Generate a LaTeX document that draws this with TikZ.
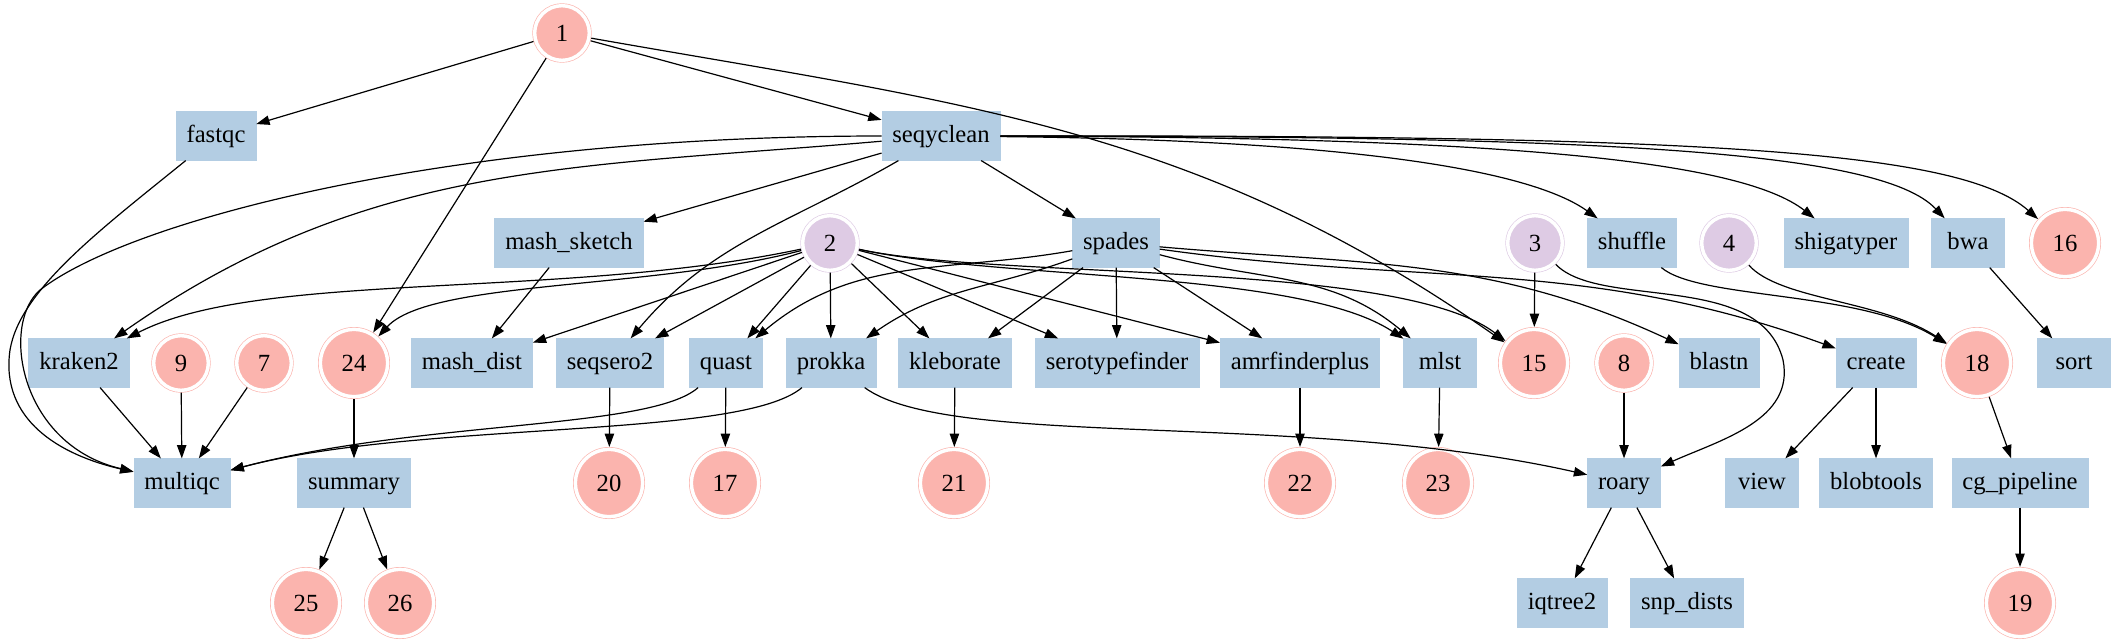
\documentclass[tikz,border=0pt]{standalone}
\usepackage{fontspec}
\setmainfont{Liberation Serif}
\usetikzlibrary{arrows.meta}

\definecolor{procblue}{HTML}{B3CDE3}
\definecolor{outpink}{HTML}{FBB4AE}
\definecolor{inlilac}{HTML}{DECBE4}
\newcommand{\gvfont}{\fontsize{18.5}{20}\selectfont}

\begin{document}
\begin{tikzpicture}[x=0.75pt,y=-0.75pt,
  proc/.style={rectangle,fill=procblue,draw=procblue,minimum width=54.5pt,
    minimum height=36.5pt,inner xsep=7.9pt,text height=12.5pt,text depth=3.5pt,font=\gvfont},
  chan/.style={circle,fill=#1,draw=#1,double=white,double distance=2.6pt,
    line width=0.5pt,minimum size=41pt,inner sep=0pt,outer sep=1.8pt,font=\gvfont},
  large/.style={minimum size=50.4pt},
  arr/.style={-{Triangle[length=10pt,width=7pt]},line width=0.9pt}]

\useasboundingbox (0,0) rectangle (2115,643);

% Processus
\foreach \n/\x/\y/\t in {
fastqc/216/136/fastqc,seqyclean/941/136/seqyclean,
mashsketch/569/243/mash\_sketch,spades/1116/243/spades,shuffle/1632/243/shuffle,
shigatyper/1846/243/shigatyper,bwa/1968/243/bwa,
kraken2/79/363/kraken2,mashdist/472/363/mash\_dist,seqsero2/610/363/seqsero2,
quast/726/363/quast,prokka/831/363/prokka,kleborate/955/363/kleborate,
serotypefinder/1117/363/serotypefinder,amrfinderplus/1300/363/amrfinderplus,
mlst/1440/363/mlst,blastn/1719/363/blastn,create/1876/363/create,sort/2074/363/sort,
multiqc/182/483/multiqc,summary/354/483/summary,roary/1624/483/roary,
view/1762/483/view,blobtools/1876/483/blobtools,cgpipeline/2020/483/cg\_pipeline,
iqtree2/1562/603/iqtree2,snpdists/1687/603/snp\_dists%
}
{
\node[proc] (\n) at (\x,\y) {\t};
}

% Canaux d'entree
\foreach \n/\x/\y in {
2/830/243,3/1535/243,4/1729/243%
}
{
\node[chan=inlilac] (n\n) at (\x,\y) {\n};
}

% Canaux de sortie
\foreach \n/\x/\y in {
1/562/33,9/181/363,7/264/363,8/1624/363%
}
{
\node[chan=outpink] (n\n) at (\x,\y) {\n};
}

\foreach \n/\x/\y in {
16/2065/243,24/354/363,15/1534/363,18/1977/363,
20/609/483,17/725/483,21/954/483,22/1300/483,23/1438/483,
25/306/603,26/400/603,19/2020/603%
}
{
\node[chan=outpink,large] (n\n) at (\x,\y) {\n};
}

% Liens droits
\foreach \a/\b in {
n1/fastqc,n1/seqyclean,n1/n24,seqyclean/mashsketch,seqyclean/spades,
mashsketch/mashdist,n2/mashdist,n2/seqsero2,n2/quast,n2/prokka,
n2/kleborate,n2/serotypefinder,n2/amrfinderplus,
spades/kleborate,spades/serotypefinder,spades/amrfinderplus,
n3/n15,bwa/sort,kraken2/multiqc,n9/multiqc,n7/multiqc,n24/summary,
seqsero2/n20,quast/n17,kleborate/n21,amrfinderplus/n22,mlst/n23,
n8/roary,create/view,create/blobtools,n18/cgpipeline,cgpipeline/n19,
summary/n25,summary/n26,roary/iqtree2,roary/snpdists%
}
{
\draw[arr] (\a) -- (\b);
}

% Liens courbes
\foreach \a/\b/\o/\i in {
n1/n15/-10/145,spades/quast/190/40,spades/prokka/200/35,
spades/mlst/-15/140,spades/blastn/-5/155,spades/create/-8/160,
seqyclean/kraken2/185/35,seqyclean/seqsero2/-150/50%
}
{
\draw[arr] (\a) to[out=\o,in=\i] (\b);
}

\draw[arr] (seqyclean) .. controls (450,136) and (130,220) .. (40,290)
  .. controls (0,325) and (20,445) .. (multiqc);
\draw[arr] (fastqc) .. controls (100,230) and (20,290) .. (10,350)
  .. controls (0,420) and (60,455) .. (multiqc);
\draw[arr] (seqyclean) .. controls (1350,140) and (1530,170) .. (shuffle);
\draw[arr] (seqyclean) .. controls (1500,137) and (1740,160) .. (shigatyper);
\draw[arr] (seqyclean) .. controls (1600,136) and (1880,150) .. (bwa);
\draw[arr] (seqyclean) .. controls (1700,135) and (1960,150) .. (n16);
\draw[arr] (n2) .. controls (560,300) and (260,270) .. (kraken2);
\draw[arr] (n2) .. controls (650,290) and (430,280) .. (n24);
\draw[arr] (n2) .. controls (1000,280) and (1300,270) .. (mlst);
\draw[arr] (n2) .. controls (1000,280) and (1400,260) .. (n15);
\draw[arr] (n3) .. controls (1600,310) and (1760,270) .. (1783,360)
  .. controls (1795,420) and (1720,440) .. (roary);
\draw[arr] (shuffle) .. controls (1700,300) and (1860,290) .. (n18);
\draw[arr] (n4) .. controls (1780,300) and (1880,300) .. (n18);
\draw[arr] (quast) .. controls (650,430) and (420,420) .. (multiqc);
\draw[arr] (prokka) .. controls (740,440) and (420,420) .. (multiqc);
\draw[arr] (prokka) .. controls (950,450) and (1300,410) .. (roary);

\end{tikzpicture}
\end{document}
